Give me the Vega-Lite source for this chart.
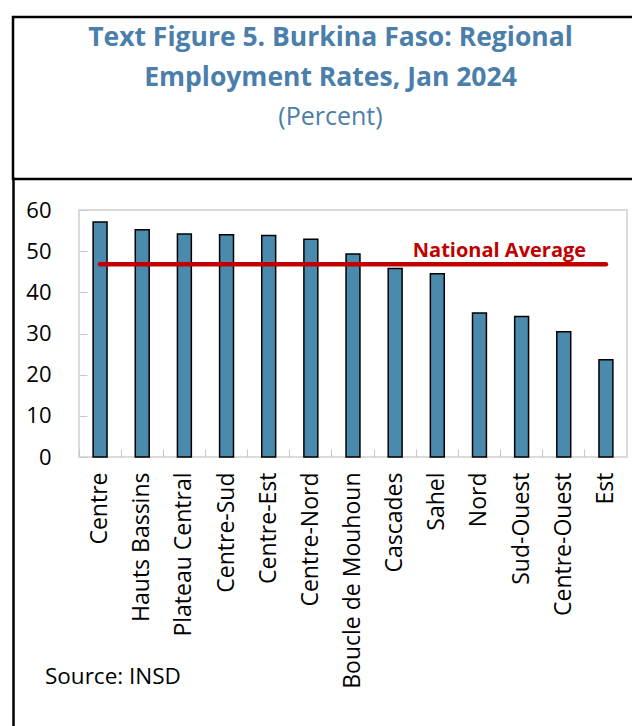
{
  "$schema": "https://vega.github.io/schema/vega-lite/v6.json",
  "padding": {"left": 11, "top": 15, "right": 0, "bottom": 0},
  "background": "white",
  "spacing": 17,
  "config": {
    "font": "Open Sans",
    "view": {"stroke": null}
  },
  "vconcat": [
    {
      "width": 625,
      "height": 162,
      "view": {"stroke": "black", "strokeWidth": 2.5},
      "data": {"values": []},
      "mark": "point",
      "title": {
        "text": ["Text Figure 5. Burkina Faso: Regional", "Employment Rates, Jan 2024"],
        "subtitle": "(Percent)",
        "anchor": "middle",
        "orient": "top",
        "offset": -113,
        "dx": 5,
        "font": "Open Sans",
        "fontSize": 26.5,
        "fontWeight": "bold",
        "color": "#4a7eab",
        "lineHeight": 40,
        "subtitleFont": "Open Sans",
        "subtitleFontSize": 25,
        "subtitleColor": "#4a7eab",
        "subtitleLineHeight": 30,
        "subtitlePadding": 14
      }
    },
    {
      "align": "none",
      "spacing": 0,
      "hconcat": [
        {
          "width": 1,
          "height": 516,
          "data": {"values": []},
          "mark": "point",
          "encoding": {
            "y": {
              "field": "frame",
              "type": "quantitative",
              "scale": {"domain": [0, 1], "range": [516, -33]},
              "axis": {
                "title": null,
                "labels": false,
                "ticks": false,
                "grid": false,
                "domain": true,
                "domainColor": "black",
                "domainWidth": 2.5
              }
            }
          }
        },
        {
          "width": 548,
          "height": 247,
          "view": {"stroke": "#d0d0d0", "strokeWidth": 1.5},
          "title": {
            "text": "Source: INSD",
            "orient": "bottom",
            "anchor": "start",
            "frame": "bounds",
            "offset": -22,
            "dx": 30,
            "font": "Open Sans",
            "fontSize": 22.5,
            "fontWeight": "normal",
            "color": "black"
          },
          "data": {
            "values": [
              {"region": "Centre", "rate": 57.1, "national": 46.8},
              {"region": "Hauts Bassins", "rate": 55.2, "national": 46.8},
              {"region": "Plateau Central", "rate": 54.2, "national": 46.8},
              {"region": "Centre-Sud", "rate": 54.0, "national": 46.8},
              {"region": "Centre-Est", "rate": 53.8, "national": 46.8},
              {"region": "Centre-Nord", "rate": 52.9, "national": 46.8},
              {"region": "Boucle de Mouhoun", "rate": 49.3, "national": 46.8},
              {"region": "Cascades", "rate": 45.8, "national": 46.8},
              {"region": "Sahel", "rate": 44.5, "national": 46.8},
              {"region": "Nord", "rate": 35.0, "national": 46.8},
              {"region": "Sud-Ouest", "rate": 34.1, "national": 46.8},
              {"region": "Centre-Ouest", "rate": 30.4, "national": 46.8},
              {"region": "Est", "rate": 23.6, "national": 46.8}
            ]
          },
          "encoding": {
            "x": {
              "field": "region",
              "type": "nominal",
              "sort": null,
              "scale": {"paddingInner": 0, "paddingOuter": 0},
              "axis": {
                "title": null,
                "labelAngle": -90,
                "labelFontSize": 23,
                "labelColor": "black",
                "labelPadding": 23,
                "labelLimit": 0,
                "bandPosition": 0,
                "ticks": true,
                "tickSize": -8,
                "tickColor": "#c8c8c8",
                "tickWidth": 1,
                "domain": false,
                "grid": false
              }
            }
          },
          "layer": [
            {
              "mark": {"type": "bar", "width": {"band": 0.33}, "fill": "#4a8aad", "stroke": "black", "strokeWidth": 1.5},
              "encoding": {
                "y": {
                  "field": "rate",
                  "type": "quantitative",
                  "scale": {"domain": [0, 60], "nice": false},
                  "axis": {
                    "title": null,
                    "values": [0, 10, 20, 30, 40, 50, 60],
                    "labelFontSize": 22,
                    "labelColor": "black",
                    "labelPadding": 36,
                    "ticks": true,
                    "tickSize": -8,
                    "tickColor": "#c8c8c8",
                    "domain": false,
                    "grid": false,
                    "minExtent": 64,
                    "maxExtent": 64
                  }
                }
              }
            },
            {
              "mark": {"type": "line", "color": "#c00000", "strokeWidth": 4.5, "strokeCap": "round"},
              "encoding": {
                "y": {"field": "national", "type": "quantitative"}
              }
            },
            {
              "data": {"values": [{"region": "Nord", "national": 46.8, "label": "National Average"}]},
              "mark": {"type": "text", "color": "#c00000", "fontSize": 20, "fontWeight": "bold", "font": "Open Sans", "dx": 20, "dy": -13},
              "encoding": {
                "y": {"field": "national", "type": "quantitative"},
                "text": {"field": "label"}
              }
            }
          ]
        }
      ]
    }
  ]
}
